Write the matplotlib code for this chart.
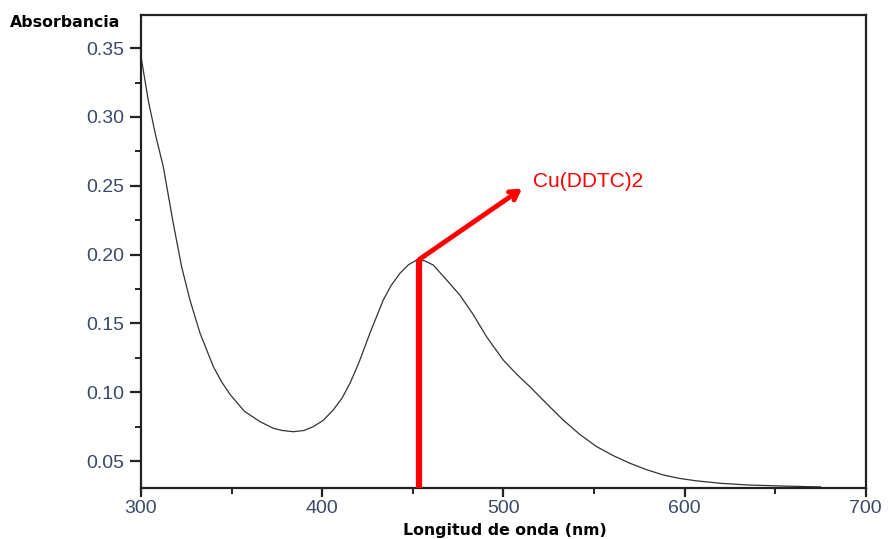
import numpy as np
import matplotlib.pyplot as plt
from matplotlib.ticker import MultipleLocator

# wavelength (nm) and absorbance
wavelength = [300, 304, 308, 312.3, 317.8, 322.4, 327, 332.6, 339.9, 344.5, 349.1,
              357, 365.7, 373, 378, 384, 390, 395.1, 400.5, 406.1, 411, 415.3, 418,
              420.8, 426.3, 433.7, 438, 442.9, 447.5, 452.1, 456.5, 461.3, 468.7,
              476, 483.3, 490.7, 499.9, 507, 514.6, 524, 533, 542, 551.4, 560.5,
              569.8, 579, 588.2, 597, 606.6, 620, 635, 655, 675]
absorbance = [0.344, 0.312, 0.287, 0.2638, 0.2227, 0.1912, 0.167, 0.1428, 0.1186,
              0.1075, 0.0985, 0.0862, 0.0786, 0.0738, 0.0722, 0.0713, 0.0722, 0.075,
              0.0795, 0.0871, 0.0958, 0.1065, 0.1145, 0.1234, 0.1428, 0.167, 0.1775,
              0.1864, 0.1925, 0.196, 0.1955, 0.1924, 0.1815, 0.1705, 0.1565, 0.1403,
              0.1234, 0.1135, 0.104, 0.0915, 0.0798, 0.0695, 0.0605, 0.054, 0.0484,
              0.0437, 0.0399, 0.0374, 0.0356, 0.0338, 0.0326, 0.0318, 0.0312]

peak_nm = 453.6
peak_abs = 0.1965
arrow_end = (510.3, 0.248)
label_pos = (516.1, 0.2493)
label = "Cu(DDTC)2"

plt.rcParams['font.family'] = ['Liberation Sans', 'DejaVu Sans']

fig = plt.figure(figsize=(8.88, 5.39), dpi=100)
ax = fig.add_axes([0.1588, 0.0946, 0.8162, 0.8774])

ax.plot(wavelength, absorbance, color='#333333', linewidth=0.9)

# red marker for the Cu(DDTC)2 band
ax.plot([peak_nm, peak_nm], [0.0, peak_abs], color='red', linewidth=4.5,
        solid_capstyle='butt', zorder=3)
ax.annotate('', xy=arrow_end, xytext=(peak_nm, peak_abs),
            arrowprops=dict(arrowstyle='->,head_length=0.6,head_width=0.35',
                            color='red', lw=3.5, shrinkA=0, shrinkB=0), zorder=3)
ax.text(label_pos[0], label_pos[1], label, color='red', fontsize=15,
        va='baseline', ha='left')

ax.set_xlim(300, 700)
ax.set_ylim(0.0304, 0.374)
ax.xaxis.set_major_locator(MultipleLocator(100))
ax.xaxis.set_minor_locator(MultipleLocator(50))
ax.yaxis.set_major_locator(MultipleLocator(0.05))
ax.yaxis.set_minor_locator(MultipleLocator(0.025))
ax.yaxis.set_major_formatter(plt.FuncFormatter(lambda v, p: f"{v:.2f}"))

for s in ax.spines.values():
    s.set_linewidth(1.6)
    s.set_color('#222222')
ax.tick_params(which='major', length=8, width=1.6, color='#222222',
               labelsize=14, labelcolor='#3a4a66', pad=4)
ax.tick_params(axis='x', which='major', length=6.5, pad=2)
ax.tick_params(which='minor', length=4.5, width=1.4, color='#222222')
ax.tick_params(top=False, right=False)

fig.text(0.011, 0.958, 'Absorbancia', fontsize=11.3, fontweight='bold',
         family='DejaVu Sans', va='center', ha='left')
fig.text(0.569, 0.015, 'Longitud de onda (nm)', fontsize=11.3, fontweight='bold',
         family='DejaVu Sans', va='center', ha='center')

fig.savefig('out.png', dpi=100)
